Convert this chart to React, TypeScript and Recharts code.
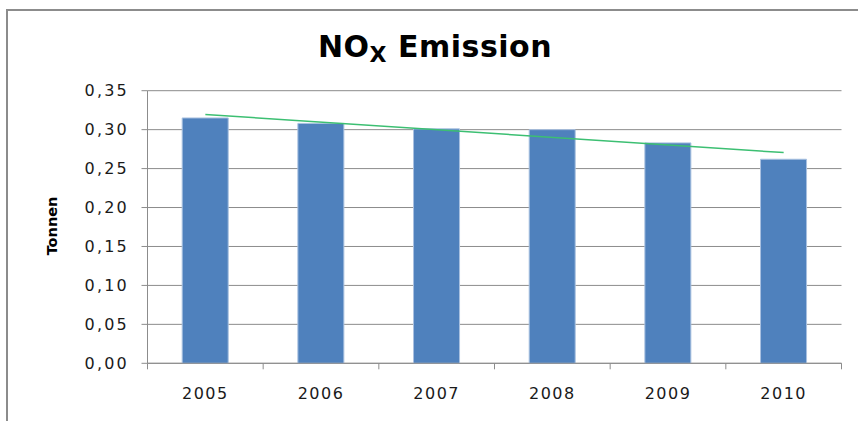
import { Bar, CartesianGrid, ComposedChart, Line, XAxis, YAxis } from 'recharts';

const years = ['2005', '2006', '2007', '2008', '2009', '2010'];
const emission = [0.315, 0.308, 0.301, 0.3, 0.283, 0.262];
// linear trendline, only its two ends
const trendEnds = [0.3195, null, null, null, null, 0.2705];
const yTicks = [0, 0.05, 0.1, 0.15, 0.2, 0.25, 0.3, 0.35];

const data = years.map((year, i) => ({ year, value: emission[i], trend: trendEnds[i] }));

const gray = '#8c8c8c';
const tickFont = { fill: '#1a1a1a', fontSize: 16, fontFamily: 'DejaVu Sans', letterSpacing: 1.5 };
const labelGap = 24;

// category label plus the small tick marks Excel puts between categories
function YearTick(props: any) {
  const { x, y, payload, index, visibleTicksCount } = props;
  const half = payload.offset || 0;
  const top = y - labelGap;
  return (
    <g>
      <line x1={x - half} x2={x - half} y1={top} y2={top + 6} stroke={gray} />
      {index === visibleTicksCount - 1 && <line x1={x + half} x2={x + half} y1={top} y2={top + 6} stroke={gray} />}
      <text x={x} y={y} dy="0.71em" textAnchor="middle" {...tickFont}>
        {payload.value}
      </text>
    </g>
  );
}

export default function App() {
  return (
    <div style={{ position: 'absolute', left: 0, top: 0, width: 858, height: 421, background: '#fff', overflow: 'hidden' }}>
      <div
        style={{
          position: 'absolute',
          left: 6,
          top: 9,
          right: -10,
          bottom: -10,
          borderLeft: `2px solid ${gray}`,
          borderTop: `2px solid ${gray}`,
        }}
      />
      <div
        style={{
          position: 'absolute',
          left: 0,
          top: 29,
          width: 870,
          textAlign: 'center',
          fontFamily: 'DejaVu Sans',
          fontWeight: 'bold',
          fontSize: 30,
          lineHeight: '36px',
          letterSpacing: 0.5,
          color: '#000',
        }}
      >
        NO<span style={{ fontSize: 22, position: 'relative', top: 5 }}>X</span> Emission
      </div>
      <div
        style={{
          position: 'absolute',
          left: 52,
          top: 226,
          transform: 'translate(-50%, -50%) rotate(-90deg)',
          fontFamily: 'DejaVu Sans',
          fontWeight: 'bold',
          fontSize: 14.5,
          color: '#000',
          whiteSpace: 'nowrap',
        }}
      >
        Tonnen
      </div>
      <div style={{ position: 'absolute', left: 0, top: 0 }}>
        <ComposedChart width={858} height={421} data={data} margin={{ top: 90.7, right: 16.5, bottom: 27.7, left: 87.5 }} barCategoryGap="30%">
          <CartesianGrid vertical={false} stroke={gray} />
          <XAxis
            dataKey="year"
            height={30}
            tickSize={0}
            tickMargin={labelGap}
            axisLine={{ stroke: gray }}
            tickLine={false}
            tick={<YearTick />}
          />
          <YAxis
            domain={[0, 0.35]}
            ticks={yTicks}
            width={60}
            tickSize={6}
            tickMargin={12.5}
            tick={{ ...tickFont, letterSpacing: 2.2 }}
            tickFormatter={(v: number) => v.toFixed(2).replace('.', ',')}
            axisLine={{ stroke: gray }}
            tickLine={{ stroke: gray }}
          />
          <Bar dataKey="value" fill="#4f81bd" stroke="#a9c1e0" strokeWidth={1} isAnimationActive={false} />
          <Line dataKey="trend" connectNulls dot={false} stroke="#3cbf72" strokeWidth={1.5} isAnimationActive={false} />
        </ComposedChart>
      </div>
    </div>
  );
}
